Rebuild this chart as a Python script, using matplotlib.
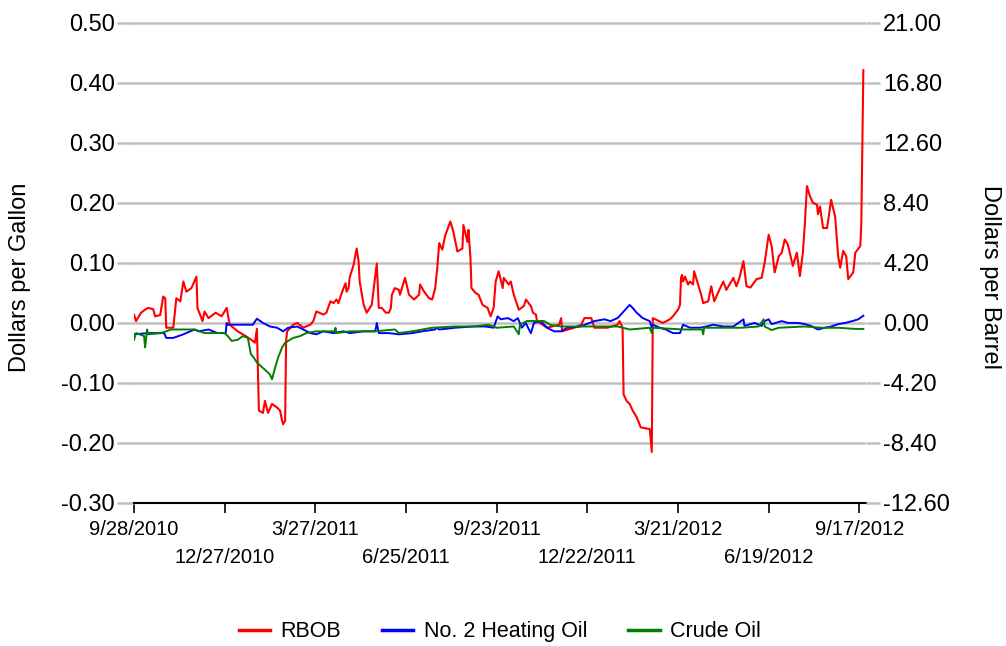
import matplotlib
matplotlib.use("Agg")
import matplotlib.pyplot as plt
import pandas as pd

plt.rcParams["font.family"] = ["Liberation Sans", "DejaVu Sans"]

# ── data (spread vs. prior settle) ──────────────────────────────────────────
START = pd.Timestamp("2010-09-28")

rbob_day = [0, 2, 7, 11, 14, 19, 21, 26, 29, 31, 32, 39, 42, 46, 49, 52, 57, 62, 63, 68,
            70, 74, 81, 87, 92, 95, 103, 111, 118, 120, 122, 124, 128, 130, 133, 137, 142,
            145, 147, 148, 150, 151, 152, 158, 162, 168, 175, 178, 181, 188, 191, 195, 198,
            201, 203, 205, 208, 210, 211, 213, 214, 218, 221, 223, 224, 228, 231, 234, 236,
            238, 241, 243, 246, 250, 253, 255, 256, 259, 263, 264, 266, 269, 273, 278, 283,
            284, 288, 293, 296, 299, 301, 303, 306, 309, 314, 317, 321, 326, 327, 331, 332,
            334, 335, 339, 342, 346, 351, 354, 357, 359, 362, 366, 367, 372, 374, 377, 382,
            387, 389, 394, 396, 399, 400, 410, 422, 424, 425, 437, 444, 447, 454, 457, 470,
            480, 482, 485, 486, 489, 492, 495, 499, 503, 512, 513, 514, 515, 525, 532, 535,
            540, 542, 543, 544, 545, 547, 550, 552, 555, 556, 560, 563, 565, 570, 573, 576,
            581, 585, 588, 595, 598, 601, 605, 608, 612, 618, 623, 626, 630, 633, 636, 640,
            643, 646, 649, 654, 658, 661, 664, 666, 668, 671, 674, 678, 679, 681, 684, 688,
            692, 696, 699, 701, 704, 707, 709, 714, 716, 721, 722, 724]
rbob_gal = [0.014, 0.003, 0.017, 0.022, 0.025, 0.023, 0.011, 0.013, 0.044, 0.041, -0.008,
            -0.008, 0.041, 0.036, 0.069, 0.052, 0.058, 0.077, 0.025, 0.003, 0.019, 0.008,
            0.017, 0.011, 0.025, -0.003, -0.014, -0.022, -0.030, -0.033, -0.010, -0.146,
            -0.150, -0.130, -0.150, -0.135, -0.141, -0.146, -0.163, -0.169, -0.163, -0.030,
            -0.014, -0.003, 0.000, -0.008, -0.003, 0.003, 0.019, 0.014, 0.017, 0.036, 0.033,
            0.039, 0.033, 0.044, 0.058, 0.066, 0.052, 0.058, 0.075, 0.097, 0.124, 0.102,
            0.069, 0.030, 0.017, 0.025, 0.030, 0.058, 0.099, 0.025, 0.025, 0.017, 0.017,
            0.025, 0.047, 0.058, 0.055, 0.047, 0.058, 0.075, 0.047, 0.039, 0.047, 0.064,
            0.052, 0.041, 0.039, 0.058, 0.091, 0.133, 0.122, 0.146, 0.169, 0.152, 0.119,
            0.124, 0.163, 0.135, 0.155, 0.108, 0.058, 0.050, 0.047, 0.030, 0.025, 0.011,
            0.025, 0.069, 0.086, 0.058, 0.075, 0.064, 0.069, 0.047, 0.022, 0.028, 0.039,
            0.028, 0.017, 0.014, 0.003, -0.008, -0.003, 0.008, -0.014, -0.008, -0.003,
            0.008, 0.008, -0.008, -0.008, -0.003, 0.003, -0.008, -0.119, -0.130, -0.135,
            -0.146, -0.157, -0.174, -0.177, -0.196, -0.215, 0.008, 0.000, 0.006, 0.011,
            0.022, 0.030, 0.075, 0.080, 0.069, 0.077, 0.064, 0.069, 0.064, 0.086, 0.064,
            0.047, 0.033, 0.036, 0.061, 0.036, 0.055, 0.069, 0.055, 0.075, 0.061, 0.075,
            0.103, 0.061, 0.059, 0.073, 0.075, 0.100, 0.147, 0.128, 0.084, 0.111, 0.117,
            0.139, 0.131, 0.095, 0.117, 0.078, 0.117, 0.167, 0.228, 0.211, 0.200, 0.197,
            0.181, 0.194, 0.158, 0.158, 0.205, 0.177, 0.111, 0.092, 0.120, 0.111, 0.073,
            0.084, 0.117, 0.128, 0.167, 0.421]

ho_day = [0, 14, 30, 32, 39, 44, 49, 60, 64, 74, 83, 91, 92, 93, 118, 122, 128, 135, 142,
          148, 153, 162, 168, 175, 181, 188, 198, 208, 214, 228, 239, 240, 241, 243, 253,
          263, 276, 286, 299, 300, 303, 319, 336, 349, 357, 361, 364, 371, 377, 381, 385,
          389, 392, 394, 397, 404, 410, 417, 424, 430, 443, 457, 467, 473, 480, 485, 492,
          495, 499, 505, 512, 514, 515, 522, 528, 535, 542, 545, 552, 562, 568, 575, 585,
          595, 600, 605, 606, 616, 623, 626, 630, 633, 643, 649, 659, 666, 672, 679, 686,
          692, 699, 706, 713, 719, 724]
ho_gal = [-0.019, -0.017, -0.017, -0.025, -0.025, -0.022, -0.019, -0.011, -0.014, -0.011,
          -0.017, -0.017, 0.000, -0.003, -0.003, 0.007, 0.000, -0.006, -0.008, -0.014,
          -0.008, -0.006, -0.011, -0.017, -0.019, -0.014, -0.017, -0.014, -0.017, -0.014,
          -0.014, -0.010, 0.000, -0.017, -0.017, -0.019, -0.017, -0.014, -0.011, -0.008,
          -0.011, -0.008, -0.006, -0.006, -0.008, 0.011, 0.006, 0.008, 0.003, 0.008,
          -0.008, 0.000, -0.011, -0.017, 0.000, 0.003, -0.008, -0.014, -0.014, -0.008,
          -0.006, 0.003, 0.006, 0.003, 0.008, 0.017, 0.030, 0.025, 0.017, 0.008, 0.003,
          -0.008, -0.003, -0.008, -0.011, -0.017, -0.017, -0.003, -0.008, -0.008, -0.006,
          -0.003, -0.006, -0.006, 0.000, 0.006, -0.005, 0.000, -0.005, 0.003, 0.006,
          -0.002, 0.003, 0.000, 0.000, -0.002, -0.005, -0.011, -0.008, -0.006, -0.002,
          0.000, 0.003, 0.006, 0.012]

crude_day = [0, 2, 10, 11, 13, 14, 27, 37, 50, 60, 70, 90, 93, 97, 103, 108, 113, 116, 119,
             122, 128, 135, 137, 140, 143, 147, 150, 153, 158, 165, 171, 181, 199, 200, 201,
             214, 239, 259, 263, 276, 296, 319, 336, 352, 360, 377, 382, 383, 390, 407, 413,
             424, 443, 480, 492, 512, 514, 515, 545, 564, 565, 566, 603, 620, 625, 626, 633,
             640, 666, 683, 699, 716, 724]
crude_bbl = [-1.18, -0.71, -0.92, -1.72, -0.46, -0.80, -0.71, -0.46, -0.46, -0.46, -0.71,
             -0.71, -0.92, -1.26, -1.18, -0.92, -1.05, -2.18, -2.44, -2.77, -3.15, -3.61,
             -3.95, -3.15, -2.44, -1.72, -1.39, -1.26, -1.05, -0.92, -0.71, -0.59, -0.59,
             -0.34, -0.71, -0.59, -0.59, -0.46, -0.71, -0.59, -0.34, -0.25, -0.25, -0.13,
             -0.34, -0.25, -0.80, -0.13, 0.13, 0.13, -0.13, -0.25, -0.25, -0.25, -0.46,
             -0.34, -0.71, -0.34, -0.46, -0.46, -0.80, -0.34, -0.34, -0.25, 0.25, -0.25,
             -0.50, -0.34, -0.25, -0.34, -0.34, -0.42, -0.42]

GAL_TICKS = [-0.30, -0.20, -0.10, 0.00, 0.10, 0.20, 0.30, 0.40, 0.50]
BBL_PER_GAL = 42
DATE_TICK_STEP = 90

GRID = "#c0c0c0"


def to_dates(days):
    return START + pd.to_timedelta(days, unit="D")


fig = plt.figure(figsize=(10.06, 6.46), dpi=100)
ax = fig.add_axes([0.1332, 0.2214, 0.7280, 0.7461])
ax2 = ax.twinx()

ax.plot(to_dates(rbob_day), rbob_gal, color="#ff0000", lw=1.5, label="RBOB", zorder=3)
ax.plot(to_dates(ho_day), ho_gal, color="#0000ff", lw=1.4, label="No. 2 Heating Oil", zorder=4)
ax2.plot(to_dates(crude_day), crude_bbl, color="#008000", lw=1.4, label="Crude Oil")

# ── axes ─────────────────────────────────────────────────────────────────────
ylo, yhi = GAL_TICKS[0], GAL_TICKS[-1] + 0.003   # a hair of headroom so the top grid shows
ax.set_ylim(ylo, yhi)
ax2.set_ylim(ylo * BBL_PER_GAL, yhi * BBL_PER_GAL)
ax.set_yticks(GAL_TICKS)
ax.set_yticklabels([f"{t:.2f}" for t in GAL_TICKS])
bbl_ticks = [t * BBL_PER_GAL for t in GAL_TICKS]
ax2.set_yticks(bbl_ticks)
ax2.set_yticklabels([f"{t:.2f}" for t in bbl_ticks])

xticks = pd.date_range(START, periods=9, freq=f"{DATE_TICK_STEP}D")
ax.set_xlim(START, START + pd.Timedelta(days=727))
ax.set_xticks(xticks)
ax.set_xticklabels([("" if i % 2 == 0 else "\n") + f"{d.month}/{d.day}/{d.year}"
                    for i, d in enumerate(xticks)])
for lbl in ax.get_xticklabels():
    lbl.set_linespacing(1.65)

ax.yaxis.grid(True, color=GRID, lw=1.8)
ax.set_axisbelow(True)
for a in (ax, ax2):
    for side in ("left", "right", "top"):
        a.spines[side].set_visible(False)
ax2.spines["bottom"].set_visible(False)
ax.spines["bottom"].set_color("black")
ax.spines["bottom"].set_linewidth(1.5)

ax.tick_params(axis="y", length=12, width=1.8, color=GRID, labelsize=17, pad=2)
ax2.tick_params(axis="y", length=10, width=1.8, color=GRID, labelsize=17, pad=2)
ax.tick_params(axis="x", length=7, width=1.2, color="black", labelsize=14.5, pad=5)

fig.text(20 / 1006, 1 - 277 / 646, "Dollars per Gallon", rotation=90,
         ha="center", va="center", fontsize=17)
fig.text(990 / 1006, 1 - 277 / 646, "Dollars per Barrel", rotation=-90,
         ha="center", va="center", fontsize=17)

handles = ax.get_lines() + ax2.get_lines()
fig.legend(handles, [h.get_label() for h in handles], loc="center",
           bbox_to_anchor=(0.497, 0.022), ncol=3, frameon=False, fontsize=15.5,
           handlelength=1.45, handletextpad=0.5, columnspacing=1.9)
for line in fig.legends[0].get_lines():
    line.set_linewidth(2.5)

fig.savefig("out.png", dpi=100)
